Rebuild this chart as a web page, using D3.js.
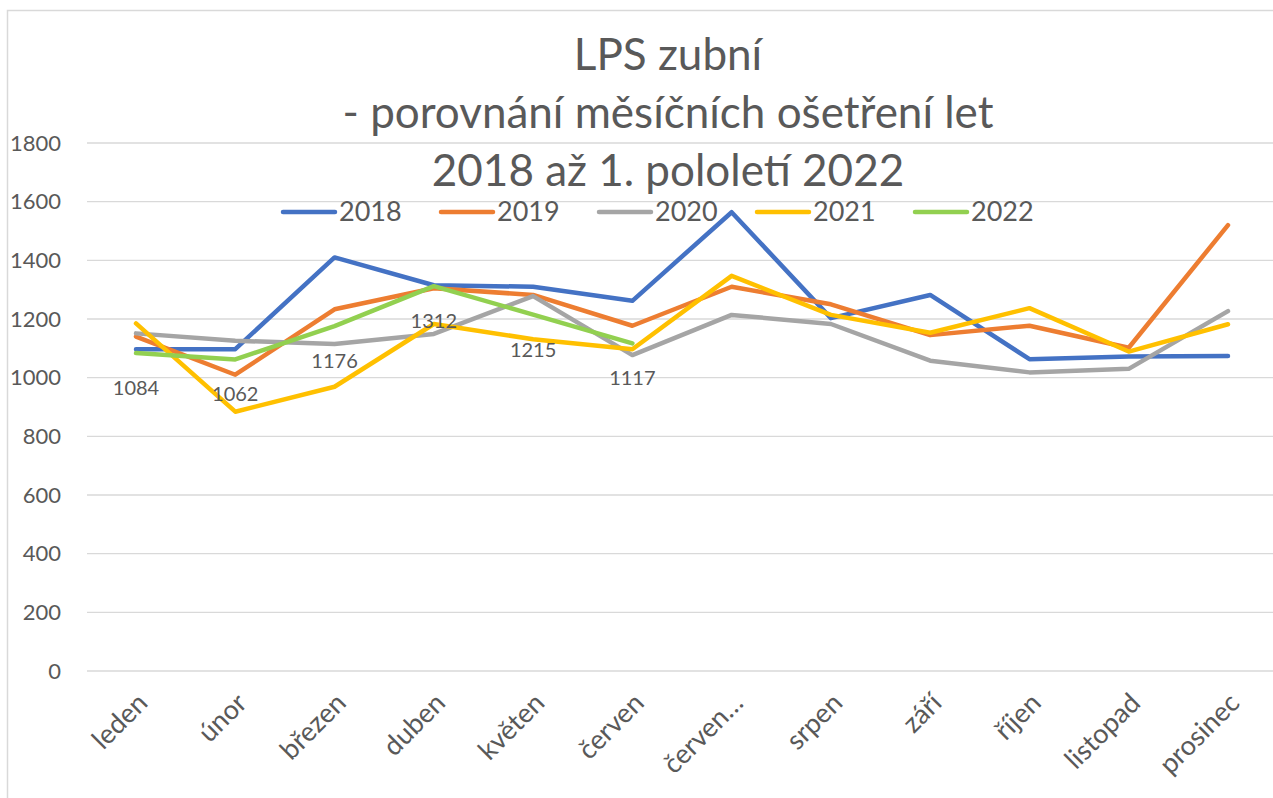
<!DOCTYPE html>
<html>
<head>
<meta charset="utf-8">
<script src="https://cdn.jsdelivr.net/npm/d3@7"></script>
<style>
  body { margin: 0; background: #fff; }
  svg { display: block; }
  text { font-family: Lato, "Open Sans", sans-serif; fill: #595959; }
</style>
</head>
<body>
<div id="chart"></div>
<script>
var months = ["leden", "únor", "březen", "duben", "květen", "červen", "červen…", "srpen", "září", "říjen", "listopad", "prosinec"];
var yTicks = [0, 200, 400, 600, 800, 1000, 1200, 1400, 1600, 1800];
var titleLines = ["LPS zubní", "- porovnání měsíčních ošetření let", "2018 až 1. pololetí 2022"];

var y2018 = [1097, 1097, 1410, 1315, 1310, 1262, 1564, 1203, 1282, 1063, 1072, 1074];
var y2019 = [1140, 1010, 1233, 1305, 1282, 1177, 1310, 1250, 1145, 1177, 1102, 1520];
var y2020 = [1151, 1126, 1115, 1149, 1278, 1077, 1214, 1183, 1058, 1018, 1030, 1227];
var y2021 = [1185, 884, 969, 1183, 1131, 1097, 1347, 1214, 1153, 1237, 1089, 1182];
var y2022 = [1084, 1062, 1176, 1312, 1215, 1117];

var series = [
    {name: "2018", color: "#4472C4", values: y2018},
    {name: "2019", color: "#ED7D31", values: y2019},
    {name: "2020", color: "#A5A5A5", values: y2020},
    {name: "2021", color: "#FFC000", values: y2021},
    {name: "2022", color: "#92D050", values: y2022}
];

var width = 1273, height = 798;

var svg = d3.select("#chart").append("svg")
    .attr("width", width)
    .attr("height", height);

// chart frame
svg.append("rect")
    .attr("x", 7.5).attr("y", 10.5)
    .attr("width", width + 10).attr("height", height)
    .attr("fill", "none")
    .attr("stroke", "#d9d9d9")
    .attr("stroke-width", 1.5);

var x = d3.scalePoint().domain(months).range([136, 1228]);
var y = d3.scaleLinear().domain([0, 1800]).range([671, 143]);

// gridlines
svg.append("g")
    .selectAll("line")
    .data(yTicks)
    .enter()
    .append("line")
    .attr("x1", 87).attr("x2", 1277)
    .attr("y1", function(d) { return y(d); })
    .attr("y2", function(d) { return y(d); })
    .attr("stroke", "#d9d9d9")
    .attr("stroke-width", 1.3);

var yAxis = d3.axisLeft(y).tickValues(yTicks).tickFormat(d3.format("d")).tickSize(0).tickPadding(0);
svg.append("g")
    .attr("transform", "translate(61,0)")
    .call(yAxis)
    .call(function(g) { g.select(".domain").remove(); })
    .selectAll("text")
    .style("font-family", "Lato, sans-serif")
    .style("font-size", "22px")
    .attr("fill", "#595959");

var xAxis = d3.axisBottom(x).tickSize(0).tickPadding(0);
svg.append("g")
    .attr("transform", "translate(0,690)")
    .call(xAxis)
    .call(function(g) { g.select(".domain").remove(); })
    .selectAll("text")
    .style("font-family", "Lato, sans-serif")
    .style("font-size", "27px")
    .attr("fill", "#595959")
    .attr("text-anchor", "end")
    .attr("dy", "0.35em")
    .attr("transform", "translate(6,8) rotate(-45)");

var line = d3.line()
    .x(function(d, i) { return x(months[i]); })
    .y(function(d) { return y(d); });

svg.selectAll(".line")
    .data(series)
    .enter()
    .append("path")
    .attr("class", "line")
    .attr("fill", "none")
    .attr("stroke", function(d) { return d.color; })
    .attr("stroke-width", 4.5)
    .attr("stroke-linejoin", "round")
    .attr("stroke-linecap", "round")
    .attr("d", function(d) { return line(d.values); });

// data labels for 2022
svg.selectAll(".label")
    .data(y2022)
    .enter()
    .append("text")
    .attr("class", "label")
    .attr("x", function(d, i) { return x(months[i]); })
    .attr("y", function(d) { return y(d) + 35; })
    .attr("dy", "0.35em")
    .attr("text-anchor", "middle")
    .style("font-size", "20px")
    .text(function(d) { return d; });

// title
svg.selectAll(".title")
    .data(titleLines)
    .enter()
    .append("text")
    .attr("class", "title")
    .attr("x", 668)
    .attr("y", function(d, i) { return 55 + i * 58; })
    .attr("dy", "0.35em")
    .attr("text-anchor", "middle")
    .style("font-size", "44px")
    .text(function(d) { return d; });

// legend
var legend = svg.selectAll(".legend")
    .data(series)
    .enter()
    .append("g")
    .attr("class", "legend")
    .attr("transform", function(d, i) { return "translate(" + (283 + i * 158) + ",212)"; });

legend.append("line")
    .attr("x1", 0).attr("x2", 52)
    .attr("stroke", function(d) { return d.color; })
    .attr("stroke-width", 4.5)
    .attr("stroke-linecap", "round");

legend.append("text")
    .attr("x", 56)
    .attr("dy", "0.35em")
    .style("font-size", "27px")
    .text(function(d) { return d.name; });
</script>
</body>
</html>
